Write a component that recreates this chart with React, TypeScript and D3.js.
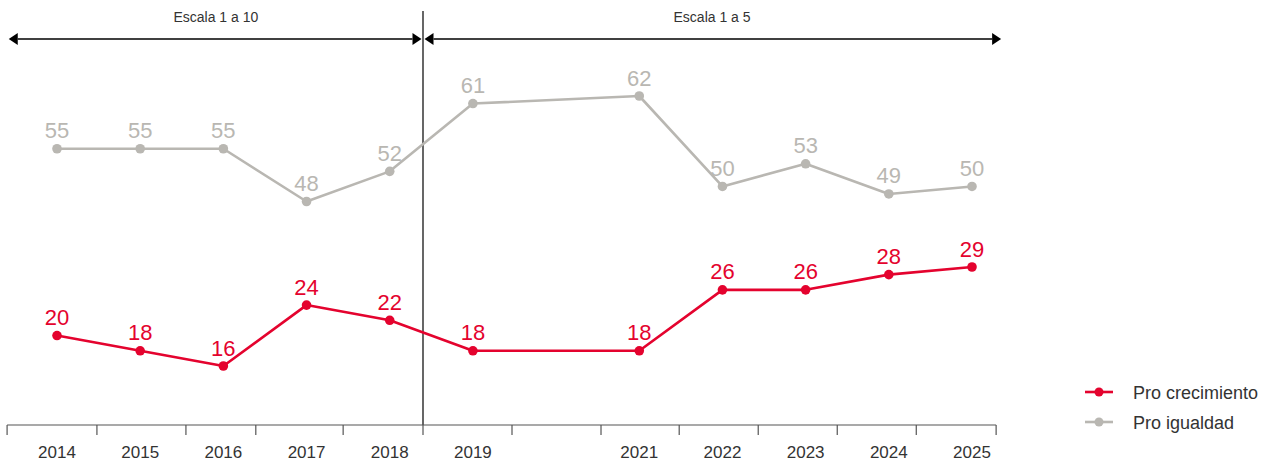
import React from 'react';
import * as d3 from 'd3';

// values
const years = [2014, 2015, 2016, 2017, 2018, 2019, 2021, 2022, 2023, 2024, 2025];
const proCrecimiento = [20, 18, 16, 24, 22, 18, 18, 26, 26, 28, 29];
const proIgualdad = [55, 55, 55, 48, 52, 61, 62, 50, 53, 49, 50];
// tick marks of the x axis, in years (they sit between the labels)
const axisBreaks = [2013.4, 2014.48, 2015.55, 2016.39, 2017.44, 2018.4, 2019.47, 2020.54, 2021.48, 2022.43, 2023.38, 2024.33, 2025.29];
const scaleLabels = ['Escala 1 a 10', 'Escala 1 a 5'];
const scaleBounds = [2013.42, 2018.4, 2025.35];
const seriesNames = ['Pro crecimiento', 'Pro igualdad'];

const RED = '#e4032e';
const GRAY = '#b9b7b2';
const TEXT = '#333333';
const FONT = '"Liberation Sans", Arial, sans-serif';

const W = 1271;
const H = 462;
const axisY = 425;
const arrowY = 39;

function Arrow({ x1, x2 }: { x1: number; x2: number }) {
  const h = 9;
  const w = 6;
  return (
    <g>
      <line x1={x1 + h} x2={x2 - h} y1={arrowY} y2={arrowY} stroke="#000" strokeWidth={1.3} />
      <path d={`M${x1},${arrowY}L${x1 + h},${arrowY - w}L${x1 + h},${arrowY + w}Z`} fill="#000" />
      <path d={`M${x2},${arrowY}L${x2 - h},${arrowY - w}L${x2 - h},${arrowY + w}Z`} fill="#000" />
    </g>
  );
}

export default function App() {
  const x = d3.scaleLinear().domain([2014, 2025]).range([57, 972]);
  const yIgualdad = d3.scaleLinear().domain([48, 62]).range([201.5, 96]);
  const yCrec = d3.scaleLinear().domain([16, 29]).range([366, 267]);

  const series = [
    { name: seriesNames[0], values: proCrecimiento, y: yCrec, color: RED },
    { name: seriesNames[1], values: proIgualdad, y: yIgualdad, color: GRAY },
  ];

  const divider = x(scaleBounds[1]);

  return (
    <svg width={W} height={H} style={{ position: 'absolute', left: 0, top: 0, fontFamily: FONT }}>
      {/* scale sections on top */}
      {scaleLabels.map((lab, i) => {
        const a = x(scaleBounds[i]);
        const b = x(scaleBounds[i + 1]);
        return (
          <g key={lab}>
            <text x={(a + b) / 2} y={22} textAnchor="middle" fontSize={14} fill={TEXT}>{lab}</text>
            <Arrow x1={a + (i === 1 ? 1.5 : 0)} x2={b - (i === 0 ? 1.5 : 0)} />
          </g>
        );
      })}
      <line x1={divider} x2={divider} y1={11} y2={axisY} stroke="#000" strokeWidth={1.2} />

      {/* x axis */}
      <line x1={x(axisBreaks[0])} x2={x(axisBreaks[axisBreaks.length - 1])} y1={axisY} y2={axisY} stroke="#555" strokeWidth={1.2} />
      {axisBreaks.map((t) => (
        <line key={t} x1={x(t)} x2={x(t)} y1={axisY} y2={axisY + 10} stroke="#555" strokeWidth={1.2} />
      ))}
      {years.map((yr) => (
        <text key={yr} x={x(yr)} y={458} textAnchor="middle" fontSize={17} fill={TEXT}>{yr}</text>
      ))}

      {/* lines */}
      {series.map((s) => {
        const line = d3.line<number>().x((_, i) => x(years[i])).y((v) => s.y(v));
        return (
          <g key={s.name}>
            <path d={line(s.values) || ''} fill="none" stroke={s.color} strokeWidth={2.6} strokeLinejoin="round" />
            {s.values.map((v, i) => (
              <g key={i}>
                <circle cx={x(years[i])} cy={s.y(v)} r={4.8} fill={s.color} />
                <text x={x(years[i])} y={s.y(v) - 10.5} textAnchor="middle" fontSize={22} fill={s.color}>{v}</text>
              </g>
            ))}
          </g>
        );
      })}

      {/* legend */}
      {series.map((s, i) => {
        const ly = 392 + i * 30;
        return (
          <g key={s.name}>
            <line x1={1085} x2={1113} y1={ly} y2={ly} stroke={s.color} strokeWidth={2.6} />
            <circle cx={1099} cy={ly} r={4.5} fill={s.color} />
            <text x={1133} y={ly + 6.5} fontSize={18} fill={TEXT}>{s.name}</text>
          </g>
        );
      })}
    </svg>
  );
}
